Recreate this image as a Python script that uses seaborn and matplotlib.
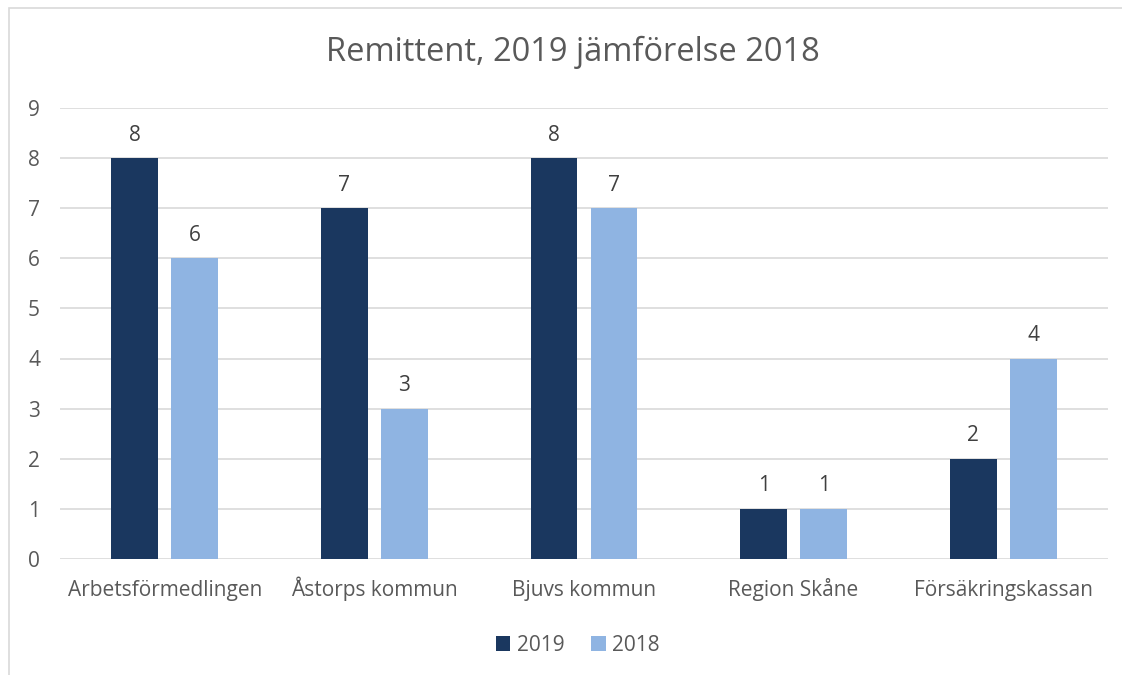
import pandas as pd
import matplotlib
matplotlib.use("Agg")
import matplotlib.pyplot as plt
import seaborn as sns
from matplotlib.patches import Rectangle

# data
categories = ["Arbetsförmedlingen", "Åstorps kommun", "Bjuvs kommun", "Region Skåne", "Försäkringskassan"]
values_2019 = [8, 7, 8, 1, 2]
values_2018 = [6, 3, 7, 1, 4]
years = ["2019", "2018"]

df = pd.DataFrame({
    "Remittent": categories * 2,
    "År": [years[0]] * len(categories) + [years[1]] * len(categories),
    "Antal": values_2019 + values_2018,
})

sns.set_style("white")
plt.rcParams["font.family"] = ["Open Sans", "DejaVu Sans"]

fig = plt.figure(figsize=(11.22, 6.75), dpi=100)
ax = fig.add_axes([0.0535, 0.172, 0.934, 0.668])

sns.barplot(data=df, x="Remittent", y="Antal", hue="År", hue_order=years,
            palette=["#1a375f", "#8fb4e2"], width=0.5725, gap=0.217,
            saturation=1, linewidth=0, ax=ax, zorder=3)

for cont in ax.containers:
    ax.bar_label(cont, padding=9, fontsize=15, color="#404040")

ax.set_ylim(0, 9)
ax.set_yticks(range(0, 10))
ax.set_xlim(-0.5, len(categories) - 0.5)
ax.grid(axis="y", color="#d9d9d9", linewidth=1.2, zorder=0)
for s in ax.spines.values():
    s.set_visible(False)
ax.tick_params(axis="both", length=0, labelsize=15, labelcolor="#595959")
ax.tick_params(axis="x", pad=27)
ax.tick_params(axis="y", pad=23)
for lbl in ax.get_yticklabels():
    lbl.set_horizontalalignment("left")
for lbl in ax.get_xticklabels():
    lbl.set_verticalalignment("baseline")
ax.set_xlabel("")
ax.set_ylabel("")

fig.text(0.511, 0.923, "Remittent, 2019 jämförelse 2018", ha="center", va="center",
         fontsize=23.5, color="#595959")

ax.legend_.remove()
handles, labels = ax.get_legend_handles_labels()
fig.legend(handles, labels, loc="center", bbox_to_anchor=(0.515, 0.044), ncol=2,
           frameon=False, fontsize=15, labelcolor="#595959",
           handlelength=0.7, handleheight=0.7, handletextpad=0.3, columnspacing=1.3)

# chart border (left and top visible in reference)
fig.patches.append(Rectangle((9 / 1122, -0.1), 1.2, 1 - 8 / 675 + 0.1,
                             transform=fig.transFigure, fill=False,
                             edgecolor="#d9d9d9", linewidth=1.2))

fig.savefig("out.png", dpi=100)
